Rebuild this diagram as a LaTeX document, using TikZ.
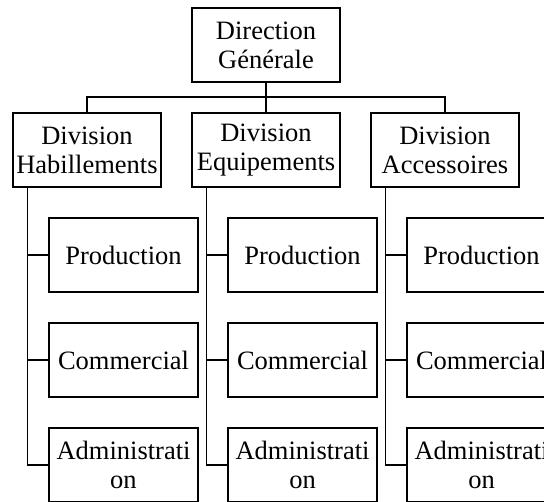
\documentclass[tikz,border=0pt]{standalone}
\usepackage{fontspec}
\setmainfont{Liberation Serif}
\begin{document}
\begin{tikzpicture}[x=1pt,y=-1pt,
  box/.style={draw, line width=1.3pt, minimum width=148pt, minimum height=74pt,
    inner sep=0pt, align=center, font=\fontsize{26.5}{29}\selectfont},
  sub/.style={box, minimum width=149pt},
  conn/.style={line width=1.3pt},
  mainconn/.style={line width=2pt}]
\useasboundingbox (0,0) rectangle (544,502);
% top
\node[box] (dg) at (266,45) {Direction\\Générale};
% divisions
\node[box] (dh) at (87,150) {Division\\Habillements};
\node[box] (de) at (266,150) {Division\\Equipements};
\node[box] (da) at (445,150) {Division\\Accessoires};
% sub boxes
\node[sub] (hp) at (123.5,255) {Production};
\node[sub] (hc) at (123.5,360) {Commercial};
\node[sub] (hadm) at (123.5,465) {Administrati\\on};
\node[sub] (ep) at (302.5,255) {Production};
\node[sub] (ec) at (302.5,360) {Commercial};
\node[sub] (eadm) at (302.5,465) {Administrati\\on};
\node[sub] (ap) at (481.5,255) {Production};
\node[sub] (ac) at (481.5,360) {Commercial};
\node[sub] (aadm) at (481.5,465) {Administrati\\on};
% top connectors
\coordinate (bar) at (266,97);
\draw[mainconn] (dg) -- (de);
\draw[conn] (dh.north) |- (bar) -| (da.north);
% trunks
\foreach \d/\p/\c/\a in {dh/hp/hc/hadm, de/ep/ec/eadm, da/ap/ac/aadm}{
  \coordinate (t\d) at ([xshift=15pt]\d.south west);
  \draw[conn] (t\d) |- (\a.west);
  \draw[conn] (\p.west) -- (\p.west -| t\d);
  \draw[conn] (\c.west) -- (\c.west -| t\d);
}
\end{tikzpicture}
\end{document}
